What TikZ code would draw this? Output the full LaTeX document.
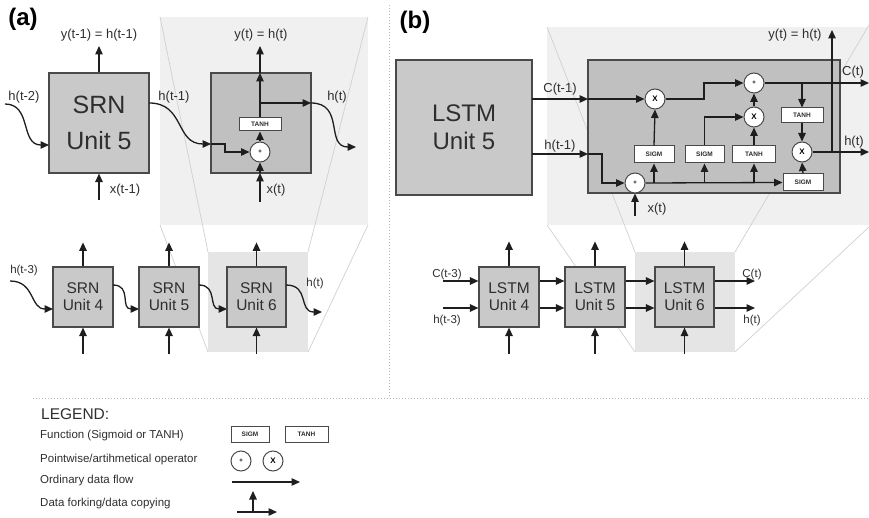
\documentclass[tikz,border=0pt]{standalone}
\usepackage{fontspec}
\setmainfont{Liberation Sans}
\usetikzlibrary{arrows.meta,calc}
\definecolor{boxgray}{HTML}{C9C9C9}
\definecolor{innergray}{HTML}{C0C0C0}
\definecolor{bordergray}{HTML}{4A4A4A}
\definecolor{magnear}{HTML}{F0F0F0}
\definecolor{magfar}{HTML}{E5E5E5}
\definecolor{magline}{HTML}{D0D0D0}
\definecolor{sepgray}{HTML}{B8B8B8}
\definecolor{ink}{HTML}{1E1E1E}
\definecolor{txt}{HTML}{2E2E2E}
\begin{document}
\begin{tikzpicture}[x=1pt,y=-1pt,
  >={Triangle[length=8.5pt,width=7.5pt]},
  flow/.style={draw=ink,line width=1.3pt},
  unitbox/.style={draw=bordergray,fill=boxgray,line width=1.2pt,inner sep=0pt,align=center,text=txt},
  bigunit/.style={unitbox,font=\fontsize{25}{36}\selectfont},
  smallunit/.style={unitbox,minimum width=60pt,minimum height=60pt,font=\fontsize{15.5}{17}\selectfont},
  innerbox/.style={draw=bordergray,fill=innergray,line width=1.2pt,inner sep=0pt},
  fnbox/.style={draw=bordergray,fill=white,line width=1pt,inner sep=0pt,font=\bfseries\fontsize{6.5}{7}\selectfont,text=txt},
  opcirc/.style={circle,draw=bordergray,fill=white,line width=1pt,inner sep=0pt,minimum size=20pt},
  lbl/.style={inner sep=0pt,font=\fontsize{13}{15}\selectfont,text=txt},
  slbl/.style={inner sep=0pt,font=\fontsize{11.5}{13}\selectfont,text=txt},
  leg/.style={inner sep=0pt,anchor=west,font=\fontsize{11.5}{13}\selectfont,text=txt},
  panel/.style={inner sep=0pt,font=\bfseries\fontsize{24}{28}\selectfont},
  magline/.style={draw=magline,line width=0.7pt},
  sep/.style={draw=sepgray,line width=1pt,dotted}
]
\useasboundingbox (0,0) rectangle (869,518);
\clip (0,0) rectangle (869,518);

% ---------- separators
\draw[sep] (389,5) -- (389,398);
\draw[sep] (33,398) -- (869,398);

% ---------- magnifier (a)
\fill[magnear] (160,17) rectangle (368,225);
\fill[magfar] (208,252) rectangle (308,352);
\draw[magline] (160,17) -- (208,252);
\draw[magline] (368,17) -- (308,252);
\draw[magline] (160,225) -- (208,352);
\draw[magline] (368,225) -- (308,352);

% ---------- magnifier (b)
\fill[magnear] (547,27) rectangle (869,225);
\fill[magfar] (635,252) rectangle (735,352);
\draw[magline] (547,27) -- (635,252);
\draw[magline] (869,25) -- (735,252);
\draw[magline] (547,225) -- (635,352);
\draw[magline] (869,227) -- (735,352);

% ================= PANEL (a)
\node[panel] (pa) at (23,19) {(a)};
\node[bigunit,minimum width=100pt,minimum height=100pt] (s5) at (99,123) {SRN\\Unit 5};
\coordinate (s5top) at (99,46);
\coordinate (s5bot) at (99,200);
\coordinate (s5out) at (149,103);
\coordinate (s5in) at (49,145);
\coordinate (hm2) at (5,104);
\draw[flow,->] (s5.north) -- (s5top);
\draw[flow,->] (s5bot) -- (s5.south);
\draw[flow,->] (hm2) .. controls (32,104) and (20,145) .. (s5in);
\node[lbl] (ly5) at (99,35) {y(t-1) = h(t-1)};
\node[lbl] (lx5) at (125,190) {x(t-1)};
\node[lbl] (lh2) at (24,97) {h(t-2)};
\node[lbl] (lh1) at (174,97) {h(t-1)};

% inner SRN
\node[innerbox,minimum width=100pt,minimum height=100pt] (is) at (261,123) {};
\node[fnbox,minimum width=42pt,minimum height=13pt] (tanha) at (260,124.5) {TANH};
\node[opcirc] (plusa) at (260,152) {\bfseries\fontsize{6}{6}\selectfont +};
\coordinate (isin) at (211,144);
\coordinate (st1) at (225,144);
\coordinate (st2) at (225,152);
\coordinate (istop) at (260,73);
\coordinate (isout) at (260,46);
\coordinate (isbot) at (260,173);
\coordinate (xt) at (260,202);
\coordinate (brA) at (260,103);
\coordinate (isr) at (311,103);
\coordinate (htend) at (356,147);
\draw[flow,->] (s5out) .. controls (185,103) and (175,144) .. (isin);
\draw[flow,->] (isin) -- (st1) -- (st2) -- (plusa.west);
\draw[flow,->] (xt) -- (isbot);
\draw[flow,->] (isbot) -- (plusa.south);
\draw[flow,->] (plusa.north) -- (tanha.south);
\draw[flow,->] (tanha.north) -- (istop);
\draw[flow,->] (istop) -- (isout);
\draw[flow,->] (brA) -- (isr);
\draw[flow,->] (isr) .. controls (345,103) and (325,147) .. (htend);
\node[lbl] (lyt) at (261,35) {y(t) = h(t)};
\node[lbl] (lht) at (337,97) {h(t)};
\node[lbl] (lxt) at (276,190) {x(t)};

% bottom row (a)
\node[smallunit] (u4) at (83,297) {SRN\\Unit 4};
\node[smallunit] (u5) at (169,297) {SRN\\Unit 5};
\node[smallunit,minimum width=59pt] (u6) at (256.5,297) {SRN\\Unit 6};
\foreach \u in {u4,u5,u6}{
  \coordinate (\u t) at ($(\u.north)+(0,-24)$);
  \coordinate (\u b) at ($(\u.south)+(0,26)$);
  \draw[flow,->] (\u.north) -- (\u t);
  \draw[flow,->] (\u b) -- (\u.south);
}
\coordinate (hm3) at (10,281);
\coordinate (u4i) at (53,309);
\coordinate (u4o) at (113,285);
\coordinate (u5i) at (139,309);
\coordinate (u5o) at (199,285);
\coordinate (u6i) at (227,309);
\coordinate (u6o) at (286,285);
\coordinate (u6e) at (322,312);
\draw[flow,->] (hm3) .. controls (35,281) and (30,309) .. (u4i);
\draw[flow,->] (u4o) .. controls (132,285) and (120,309) .. (u5i);
\draw[flow,->] (u5o) .. controls (218,285) and (208,309) .. (u6i);
\draw[flow,->] (u6o) .. controls (310,285) and (298,312) .. (u6e);
\node[slbl] (lh3) at (24,271) {h(t-3)};
\node[slbl] (lht6) at (315,284) {h(t)};

% ================= PANEL (b)
\node[panel] (pb) at (415,22) {(b)};
\node[bigunit,minimum width=136pt,minimum height=135pt,font=\fontsize{24}{28}\selectfont] (l5) at (464,127.5) {LSTM\\Unit 5};
\node[innerbox,minimum width=252pt,minimum height=133pt] (il) at (714,126.5) {};

\node[opcirc] (x1) at (655,99) {\bfseries\fontsize{8}{8}\selectfont X};
\node[opcirc] (p2) at (754,83) {\bfseries\fontsize{6}{6}\selectfont +};
\node[opcirc] (x2) at (754,117) {\bfseries\fontsize{8}{8}\selectfont X};
\node[opcirc] (x3) at (802,152) {\bfseries\fontsize{8}{8}\selectfont X};
\node[opcirc] (p1) at (635,183) {\bfseries\fontsize{6}{6}\selectfont +};
\node[fnbox,minimum width=42pt,minimum height=15pt] (t2) at (802,115.5) {TANH};
\node[fnbox,minimum width=40pt,minimum height=17pt] (sg1) at (654,154.5) {SIGM};
\node[fnbox,minimum width=39pt,minimum height=17pt] (sg2) at (704.5,154.5) {SIGM};
\node[fnbox,minimum width=43pt,minimum height=17pt] (t1) at (754,154.5) {TANH};
\node[fnbox,minimum width=40pt,minimum height=17pt] (sg3) at (803,182.5) {SIGM};

\coordinate (cl5) at (532,99);
\coordinate (cin) at (588,99);
\coordinate (hl5) at (532,154);
\coordinate (hin) at (588,154);
\coordinate (hk1) at (602,154);
\coordinate (hk2) at (602,183);
\coordinate (xb) at (635,216);
\coordinate (ck1) at (704,99);
\coordinate (ck2) at (704,83);
\coordinate (cbr) at (802,83);
\coordinate (cend) at (869,83);
\coordinate (hbr) at (832,152);
\coordinate (hend) at (869,152);
\coordinate (ytop) at (832,30);
\coordinate (b1) at (654,183);
\coordinate (b2) at (704.5,183);
\coordinate (b3) at (754,183);
\coordinate (sk) at (704.5,117);

\draw[flow,->] (cl5) -- (cin);
\draw[flow,->] (cin) -- (x1.west);
\draw[flow,->] (x1.east) -- (ck1) -- (ck2) -- (p2.west);
\draw[flow,->] (p2.east) -- (cend);
\draw[flow,->] (cbr) -- (t2.north);
\draw[flow,->] (t2.south) -- (x3.north);
\draw[flow,->] (x3.east) -- (hend);
\draw[flow,->] (hbr) -- (ytop);
\draw[flow,->] (sg3.north) -- (x3.south);
\draw[flow,->] (hl5) -- (hin);
\draw[flow,->] (hin) -- (hk1) -- (hk2) -- (p1.west);
\draw[flow,->] (xb) -- (p1.south);
\draw[flow,->] (p1.east) -- (sg3.west);
\draw[flow,->] (b1) -- (sg1.south);
\draw[flow,->] (b2) -- (sg2.south);
\draw[flow,->] (b3) -- (t1.south);
\draw[flow,->] (sg1.north) -- (x1.south);
\draw[flow,->] (sg2.north) -- (sk) -- (x2.west);
\draw[flow,->] (t1.north) -- (x2.south);
\draw[flow,->] (x2.north) -- (p2.south);

\node[lbl] (lc1) at (560,89) {C(t-1)};
\node[lbl] (lh1b) at (560,146) {h(t-1)};
\node[lbl] (lxtb) at (657,209) {x(t)};
\node[lbl] (lct) at (853,72) {C(t)};
\node[lbl] (lhtb) at (854,142) {h(t)};
\node[lbl] (lytb) at (795,35) {y(t) = h(t)};

% bottom row (b)
\node[smallunit] (v4) at (509,297) {LSTM\\Unit 4};
\node[smallunit] (v5) at (595,297) {LSTM\\Unit 5};
\node[smallunit,minimum width=59pt] (v6) at (684.5,297) {LSTM\\Unit 6};
\foreach \u in {v4,v5,v6}{
  \coordinate (\u t) at ($(\u.north)+(0,-25)$);
  \coordinate (\u b) at ($(\u.south)+(0,26)$);
  \draw[flow,->] (\u.north) -- (\u t);
  \draw[flow,->] (\u b) -- (\u.south);
}
\coordinate (c3) at (443,281);
\coordinate (h3) at (443,308);
\coordinate (ce) at (755,281);
\coordinate (he) at (755,308);
\draw[flow,->] (c3) -- (v4.west |- c3);
\draw[flow,->] (h3) -- (v4.west |- h3);
\draw[flow,->] (v4.east |- c3) -- (v5.west |- c3);
\draw[flow,->] (v4.east |- h3) -- (v5.west |- h3);
\draw[flow,->] (v5.east |- c3) -- (v6.west |- c3);
\draw[flow,->] (v5.east |- h3) -- (v6.west |- h3);
\draw[flow,->] (v6.east |- c3) -- (ce);
\draw[flow,->] (v6.east |- h3) -- (he);
\node[slbl] (lc3) at (447,275) {C(t-3)};
\node[slbl] (lh3b) at (447,321) {h(t-3)};
\node[slbl] (lcte) at (752,275) {C(t)};
\node[slbl] (lhte) at (752,321) {h(t)};

% ================= LEGEND
\node[inner sep=0pt,anchor=west,font=\fontsize{15.5}{17}\selectfont,text=txt] (lg) at (41,414) {LEGEND:};
\node[leg] (lg1) at (40,436) {Function (Sigmoid or TANH)};
\node[leg] (lg2) at (40,460) {Pointwise/artihmetical operator};
\node[leg] (lg3) at (40,481) {Ordinary data flow};
\node[leg] (lg4) at (40,504) {Data forking/data copying};
\node[fnbox,minimum width=38pt,minimum height=16pt] (lsg) at (250,434) {SIGM};
\node[fnbox,minimum width=43pt,minimum height=16pt] (ltn) at (306.5,434) {TANH};
\node[opcirc] (lp) at (241,461) {\bfseries\fontsize{6}{6}\selectfont +};
\node[opcirc] (lx) at (273,461) {\bfseries\fontsize{8}{8}\selectfont X};
\coordinate (la1) at (232,482);
\coordinate (la2) at (300,482);
\draw[flow,->] (la1) -- (la2);
\coordinate (lf1) at (237,512);
\coordinate (lf2) at (277,512);
\coordinate (lf3) at (253,512);
\coordinate (lf4) at (253,491);
\draw[flow,->] (lf1) -- (lf2);
\draw[flow,->] (lf3) -- (lf4);
\end{tikzpicture}
\end{document}
